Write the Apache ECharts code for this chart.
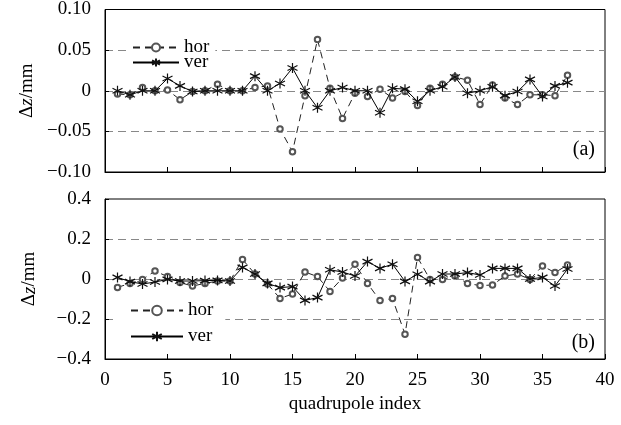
<!DOCTYPE html>
<html>
<head>
<meta charset="utf-8">
<script src="https://cdn.jsdelivr.net/npm/echarts@6/dist/echarts.min.js"></script>
<style>
  html, body { margin: 0; padding: 0; background: #fff; }
  #root { width: 621px; height: 425px; }
</style>
</head>
<body>
<div id="root"></div>
<script>
// quadrupole index (x) and measured offsets (mm)
const quadIndex = [1, 2, 3, 4, 5, 6, 7, 8, 9, 10, 11, 12, 13, 14, 15, 16, 17, 18, 19, 20,
  21, 22, 23, 24, 25, 26, 27, 28, 29, 30, 31, 32, 33, 34, 35, 36, 37]

// panel (a)
const horA = [-0.004, -0.005, 0.004, 0, 0.001, -0.011, -0.001, 0, 0.008, 0,
  0, 0.004, 0.006, -0.047, -0.075, -0.006, 0.063, 0.003, -0.034, -0.003,
  -0.007, 0.002, -0.009, -0.001, -0.018, 0.003, 0.008, 0.017, 0.013, -0.017,
  0.007, -0.009, -0.017, -0.005, -0.005, -0.006, 0.019]
const verA = [0, -0.005, 0, 0, 0.015, 0.006, -0.001, 0, 0, 0,
  0, 0.018, 0, 0.009, 0.028, 0, -0.021, 0, 0.004, 0,
  0, -0.027, 0.003, 0.002, -0.013, 0, 0.005, 0.017, -0.003, 0,
  0.005, -0.006, -0.001, 0.014, -0.007, 0.006, 0.010]

// panel (b)
const horB = [-0.042, -0.022, -0.002, 0.04, 0.012, -0.018, -0.035, -0.022, -0.01, -0.01,
  0.098, 0.025, -0.025, -0.097, -0.075, 0.035, 0.012, -0.062, 0.005, 0.074,
  -0.022, -0.108, -0.098, -0.276, 0.108, -0.002, -0.002, 0.015, -0.022, -0.033,
  -0.03, 0.015, 0.025, -0.002, 0.065, 0.032, 0.07]
const verB = [0.008, -0.013, -0.025, -0.015, -0.002, -0.01, -0.01, -0.008, -0.007, -0.01,
  0.058, 0.025, -0.022, -0.043, -0.038, -0.107, -0.093, 0.046, 0.035, 0.015,
  0.087, 0.053, 0.074, -0.012, 0.024, -0.013, 0.025, 0.025, 0.032, 0.02,
  0.053, 0.053, 0.053, 0, 0.008, -0.035, 0.05]

const xTicks = [0, 5, 10, 15, 20, 25, 30, 35, 40]

const FONT = '"Liberation Serif", "Times New Roman", serif'
const FS = 19
const starPath = 'path://M5,0L5,10M0.67,2.5L9.33,7.5M0.67,7.5L9.33,2.5'

const pairs = (ys) => quadIndex.map((x, i) => [x, ys[i]])

const fmt = (digits) => (v) => {
  if (Math.abs(v) < 1e-9) return '0'
  return (v < 0 ? '\u2212' : '') + Math.abs(v).toFixed(digits)
}

const chart = echarts.init(document.getElementById('root'))

const textStyle = { fontFamily: FONT, fontSize: FS, color: '#000' }

const yAxisBase = (gridIndex, min, max, interval, digits) => ({
  type: 'value',
  gridIndex: gridIndex,
  min: min,
  max: max,
  interval: interval,
  name: '{a|\u0394}{b|z}{a|/mm}',
  nameLocation: 'middle',
  nameRotate: 90,
  nameGap: 66,
  nameTextStyle: {
    fontFamily: FONT,
    fontSize: FS,
    color: '#000',
    rich: {
      a: { fontFamily: FONT, fontSize: FS, color: '#000' },
      b: { fontFamily: FONT, fontSize: FS, fontStyle: 'italic', color: '#000' }
    }
  },
  axisLine: { show: true, onZero: false, lineStyle: { color: '#000', width: 1 } },
  axisTick: { show: true, inside: true, length: 4, lineStyle: { color: '#000' } },
  axisLabel: { margin: 14, formatter: fmt(digits), fontFamily: FONT, fontSize: FS, color: '#000' },
  splitLine: {
    show: true,
    showMinLine: false,
    showMaxLine: false,
    lineStyle: { color: '#888', type: [8, 5], width: 1 }
  }
})

const xAxisBase = (gridIndex, showLabels) => ({
  type: 'value',
  gridIndex: gridIndex,
  min: xTicks[0],
  max: xTicks[xTicks.length - 1],
  interval: 5,
  name: showLabels ? 'quadrupole index' : '',
  nameLocation: 'middle',
  nameGap: 36,
  nameTextStyle: textStyle,
  axisLine: { show: true, onZero: false, lineStyle: { color: '#000', width: 1 } },
  axisTick: { show: true, inside: true, length: 5, lineStyle: { color: '#000' } },
  axisLabel: { show: showLabels, margin: 12, fontFamily: FONT, fontSize: FS, color: '#000' },
  splitLine: { show: false }
})

const horSeries = (idx, data) => ({
  name: 'hor',
  type: 'line',
  xAxisIndex: idx,
  yAxisIndex: idx,
  data: pairs(data),
  symbol: 'emptyCircle',
  symbolSize: 5.5,
  itemStyle: { color: '#555', borderColor: '#555', borderWidth: 0.8 },
  lineStyle: { color: '#222', width: 1, type: [7, 5] },
  emphasis: { disabled: true },
  z: 3
})

const verSeries = (idx, data) => ({
  name: 'ver',
  type: 'line',
  xAxisIndex: idx,
  yAxisIndex: idx,
  data: pairs(data),
  symbol: starPath,
  symbolSize: 10,
  itemStyle: { color: '#000', borderColor: '#111', borderWidth: 1.2 },
  lineStyle: { color: '#000', width: 1 },
  emphasis: { disabled: true },
  z: 4
})

const option = {
  animation: false,
  backgroundColor: '#fff',
  grid: [
    { left: 105, top: 8, width: 500, height: 164, show: true, borderColor: '#000', borderWidth: 1, backgroundColor: 'transparent' },
    { left: 105, top: 199, width: 500, height: 160, show: true, borderColor: '#000', borderWidth: 1, backgroundColor: 'transparent' }
  ],
  xAxis: [xAxisBase(0, false), xAxisBase(1, true)],
  yAxis: [yAxisBase(0, -0.1, 0.1, 0.05, 2), yAxisBase(1, -0.4, 0.4, 0.2, 1)],
  title: [
    { text: '(a)', right: 21, top: 135, textStyle: { fontFamily: FONT, fontSize: 20, fontWeight: 'normal', color: '#000' } },
    { text: '(b)', right: 21, top: 328, textStyle: { fontFamily: FONT, fontSize: 20, fontWeight: 'normal', color: '#000' } }
  ],
  legend: [
    {
      data: ['hor', 'ver'],
      orient: 'vertical',
      left: 126,
      top: 34,
      padding: [4, 6],
      itemWidth: 46,
      itemHeight: 10,
      itemGap: -4,
      backgroundColor: '#fff',
      textStyle: { fontFamily: FONT, fontSize: FS, color: '#000', lineHeight: 14 }
    },
    {
      data: ['hor', 'ver'],
      orient: 'vertical',
      left: 118,
      top: 295,
      padding: [6, 12],
      itemWidth: 52,
      itemHeight: 12,
      itemGap: 7,
      backgroundColor: '#fff',
      textStyle: { fontFamily: FONT, fontSize: FS, color: '#000', lineHeight: 14 }
    }
  ],
  series: [
    horSeries(0, horA),
    verSeries(0, verA),
    horSeries(1, horB),
    verSeries(1, verB)
  ]
}

chart.setOption(option)
</script>
</body>
</html>
